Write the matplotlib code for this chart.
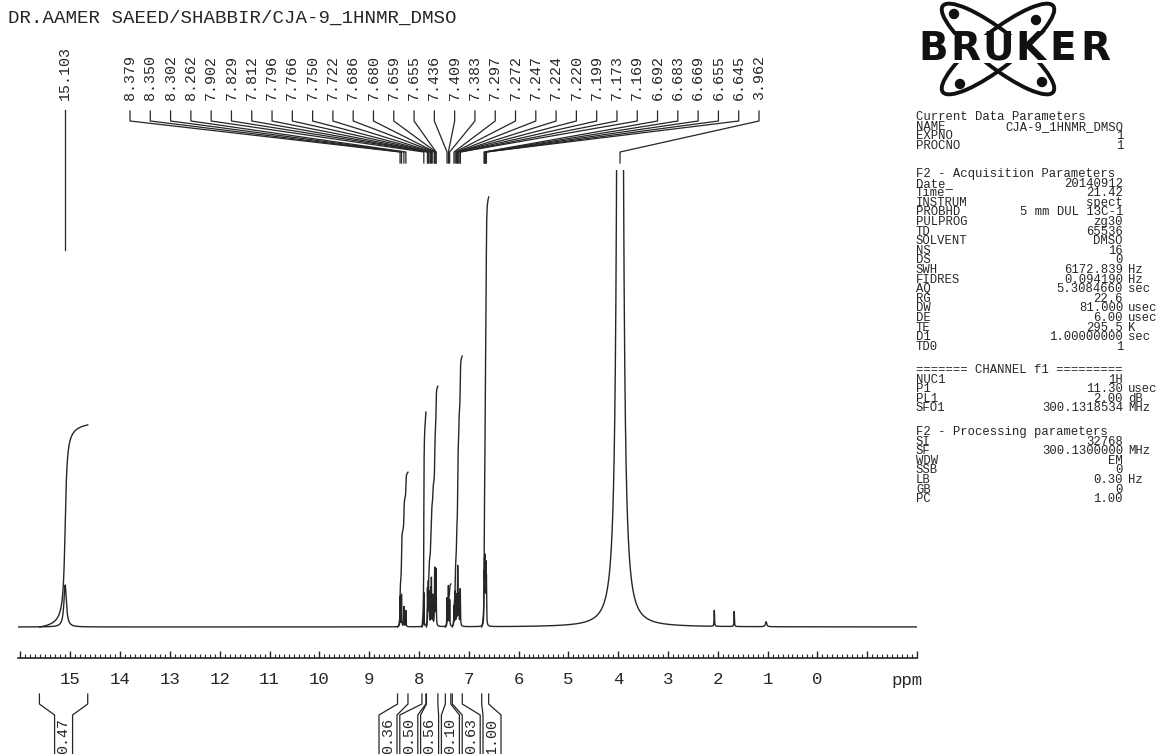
import numpy as np
import matplotlib.pyplot as plt
from matplotlib.patches import Ellipse, Rectangle, Circle
from matplotlib.lines import Line2D
from matplotlib.ticker import MultipleLocator, FuncFormatter

W, H = 1158, 754
INK = "#262626"
MONO = ["Liberation Mono", "DejaVu Sans Mono"]
plt.rcParams["font.family"] = MONO

# ================================
# Data
# ================================
title = "DR.AAMER SAEED/SHABBIR/CJA-9_1HNMR_DMSO"

# labelled peaks (ppm) and estimated heights (px above baseline)
peak_ppm = [15.103,
            8.379, 8.350, 8.302, 8.262,
            7.902, 7.829, 7.812, 7.796, 7.766, 7.750, 7.722,
            7.686, 7.680, 7.659, 7.655,
            7.436, 7.409, 7.383,
            7.297, 7.272, 7.247, 7.224, 7.220, 7.199, 7.173, 7.169,
            6.692, 6.683, 6.669, 6.655, 6.645,
            3.962]
peak_height = [42,
               30, 32, 20, 16,
               34, 36, 42, 32, 36, 46, 30,
               40, 44, 34, 36,
               28, 40, 26,
               20, 34, 30, 38, 36, 30, 24, 22,
               44, 56, 62, 54, 42,
               4000]
peak_fwhm = [0.06] + [0.008] * 31 + [0.05]

# small unlabelled peaks
extra_ppm = [2.07, 1.67, 1.03]
extra_height = [16, 15, 5]
extra_fwhm = [0.01, 0.01, 0.03]

# integrals: region (ppm) and value
integral_start = [15.62, 8.43, 7.94, 7.85, 7.47, 7.33, 6.74]
integral_end = [14.65, 8.22, 7.86, 7.62, 7.36, 7.13, 6.60]
integral_value = [0.47, 0.36, 0.50, 0.56, 0.10, 0.63, 1.00]
integral_scale = 430  # px per unit

# ruler
tick_labels_shown = list(range(0, 16))

# parameter panel
current_params = [("NAME", "CJA-9_1HNMR_DMSO", ""), ("EXPNO", "1", ""),
                  ("PROCNO", "1", "")]
acq_params = [("Date_", "20140912", ""), ("Time", "21.42", ""),
              ("INSTRUM", "spect", ""), ("PROBHD", "5 mm DUL 13C-1", ""),
              ("PULPROG", "zg30", ""), ("TD", "65536", ""),
              ("SOLVENT", "DMSO", ""), ("NS", "16", ""), ("DS", "0", ""),
              ("SWH", "6172.839", "Hz"), ("FIDRES", "0.094190", "Hz"),
              ("AQ", "5.3084660", "sec"), ("RG", "22.6", ""),
              ("DW", "81.000", "usec"), ("DE", "6.00", "usec"),
              ("TE", "295.5", "K"), ("D1", "1.00000000", "sec"),
              ("TD0", "1", "")]
channel_params = [("NUC1", "1H", ""), ("P1", "11.30", "usec"),
                  ("PL1", "2.00", "dB"), ("SFO1", "300.1318534", "MHz")]
proc_params = [("SI", "32768", ""), ("SF", "300.1300000", "MHz"),
               ("WDW", "EM", ""), ("SSB", "0", ""), ("LB", "0.30", "Hz"),
               ("GB", "0", ""), ("PC", "1.00", "")]


def fx(px):
    return px / W


def fy(py):
    return 1 - py / H


# ================================
# Figure and spectrum axes
# ================================
fig = plt.figure(figsize=(W / 100, H / 100), dpi=100)
ax = fig.add_axes([fx(18), fy(658), 899 / W, (658 - 170) / H])
ax.set_xlim(16.05, -2.0)
ax.set_ylim(-31, 457)

ppm = np.linspace(16.05, -2.0, 40000)
spec = np.zeros_like(ppm)
for c, h, w in zip(peak_ppm + extra_ppm, peak_height + extra_height,
                   peak_fwhm + extra_fwhm):
    g = w / 2
    spec += h * g ** 2 / ((ppm - c) ** 2 + g ** 2)

ax.plot(ppm, spec, color=INK, lw=1.0)

# integral curves
for a, b, v in zip(integral_start, integral_end, integral_value):
    m = (ppm <= a) & (ppm >= b)
    cum = np.cumsum(spec[m])
    cum = (cum - cum[0]) / (cum[-1] - cum[0])
    ax.plot(ppm[m], cum * v * integral_scale, color=INK, lw=1.0)

for s in ("left", "right", "top"):
    ax.spines[s].set_visible(False)
ax.spines["bottom"].set_color(INK)
ax.spines["bottom"].set_linewidth(1.2)
ax.set_yticks([])
ax.xaxis.set_major_locator(MultipleLocator(1))
ax.xaxis.set_minor_locator(MultipleLocator(0.1))
ax.xaxis.set_major_formatter(FuncFormatter(
    lambda v, pos: str(int(round(v))) if int(round(v)) in tick_labels_shown else ""))
ax.tick_params(axis="x", which="major", direction="in", length=5, width=1,
               pad=10, labelsize=12.5, colors=INK)
ax.tick_params(axis="x", which="minor", direction="in", length=3,
               width=0.8, colors=INK)
fig.text(fx(907), fy(680), "ppm", ha="center", va="center", fontsize=12.5,
         color=INK)


def data_px(p):
    return ax.transData.transform((p, 0))[0]


def line(xs, ys, lw=0.9):
    fig.add_artist(Line2D([fx(v) for v in xs], [fy(v) for v in ys],
                          transform=fig.transFigure, color=INK, lw=lw))


# ================================
# Peak labels
# ================================
fig.text(fx(8), fy(18), title, ha="left", va="center", fontsize=13.8,
         color=INK)

xp0 = data_px(peak_ppm[0])
fig.text(fx(xp0), fy(100), f"{peak_ppm[0]:.3f}", rotation=90, ha="center",
         va="bottom", fontsize=10.8, color=INK)
line([xp0, xp0], [110, 250])

lab_x = np.linspace(130, 759, len(peak_ppm) - 1)
for lx, p in zip(lab_x, peak_ppm[1:]):
    xp = data_px(p)
    fig.text(fx(lx), fy(100), f"{p:.3f}", rotation=90, ha="center",
             va="bottom", fontsize=10.8, color=INK)
    line([lx, lx, xp, xp], [111, 121, 152, 163])

# ================================
# Integral brackets under the ruler
# ================================
box = 18
int_lab_x = [(data_px(integral_start[0]) + data_px(integral_end[0])) / 2]
int_lab_x += list(np.linspace(388, 492, len(integral_value) - 1))
for a, b, v, lx in zip(integral_start, integral_end, integral_value, int_lab_x):
    xa, xb = data_px(a), data_px(b)
    line([xa, xa, lx - box / 2, lx - box / 2], [694, 704, 715, 760])
    line([xb, xb, lx + box / 2, lx + box / 2], [694, 704, 715, 760])
    fig.text(fx(lx), fy(736), f"{v:.2f}", rotation=90, ha="center",
             va="center", fontsize=10.8, color=INK)

# ================================
# Bruker logo
# ================================
lax = fig.add_axes([fx(912), fy(98), 200 / W, 98 / H])
lax.set_xlim(0, 200)
lax.set_ylim(98, 0)
lax.axis("off")
for ang in (38, -38):
    lax.add_patch(Ellipse((86, 49), 140, 36, angle=ang, fill=False, lw=2.8,
                          ec="#111111", zorder=1))
for cx, cy in [(42, 14), (124, 20), (48, 84), (130, 82)]:
    lax.add_patch(Circle((cx, cy), 4.5, color="#111111", zorder=1))
lax.add_patch(Rectangle((4, 35), 194, 28, fc="white", ec="none", zorder=2))
for i, ch in enumerate("BRUKER"):
    lax.text(21 + 32.5 * i, 49, ch, ha="center", va="center", fontsize=28,
             fontweight="heavy", family="DejaVu Sans", color="#111111",
             zorder=3)

# ================================
# Parameter panel
# ================================
step = 9.6
PFS = 8.8


def block(header, rows, y0):
    fig.text(fx(916), fy(y0), header, ha="left", va="center", fontsize=PFS,
             color=INK)
    for k, (name, val, unit) in enumerate(rows, start=1):
        y = y0 + k * step
        fig.text(fx(916), fy(y), name, ha="left", va="center", fontsize=PFS,
                 color=INK)
        fig.text(fx(1123), fy(y), val, ha="right", va="center",
                 fontsize=PFS, color=INK)
        if unit:
            fig.text(fx(1128), fy(y), unit, ha="left", va="center",
                     fontsize=PFS, color=INK)


block("Current Data Parameters", current_params, 117)
block("F2 - Acquisition Parameters", acq_params, 174)
block("======= CHANNEL f1 =========", channel_params, 370)
block("F2 - Processing parameters", proc_params, 432)

fig.savefig("out.png", dpi=100, facecolor="white")
